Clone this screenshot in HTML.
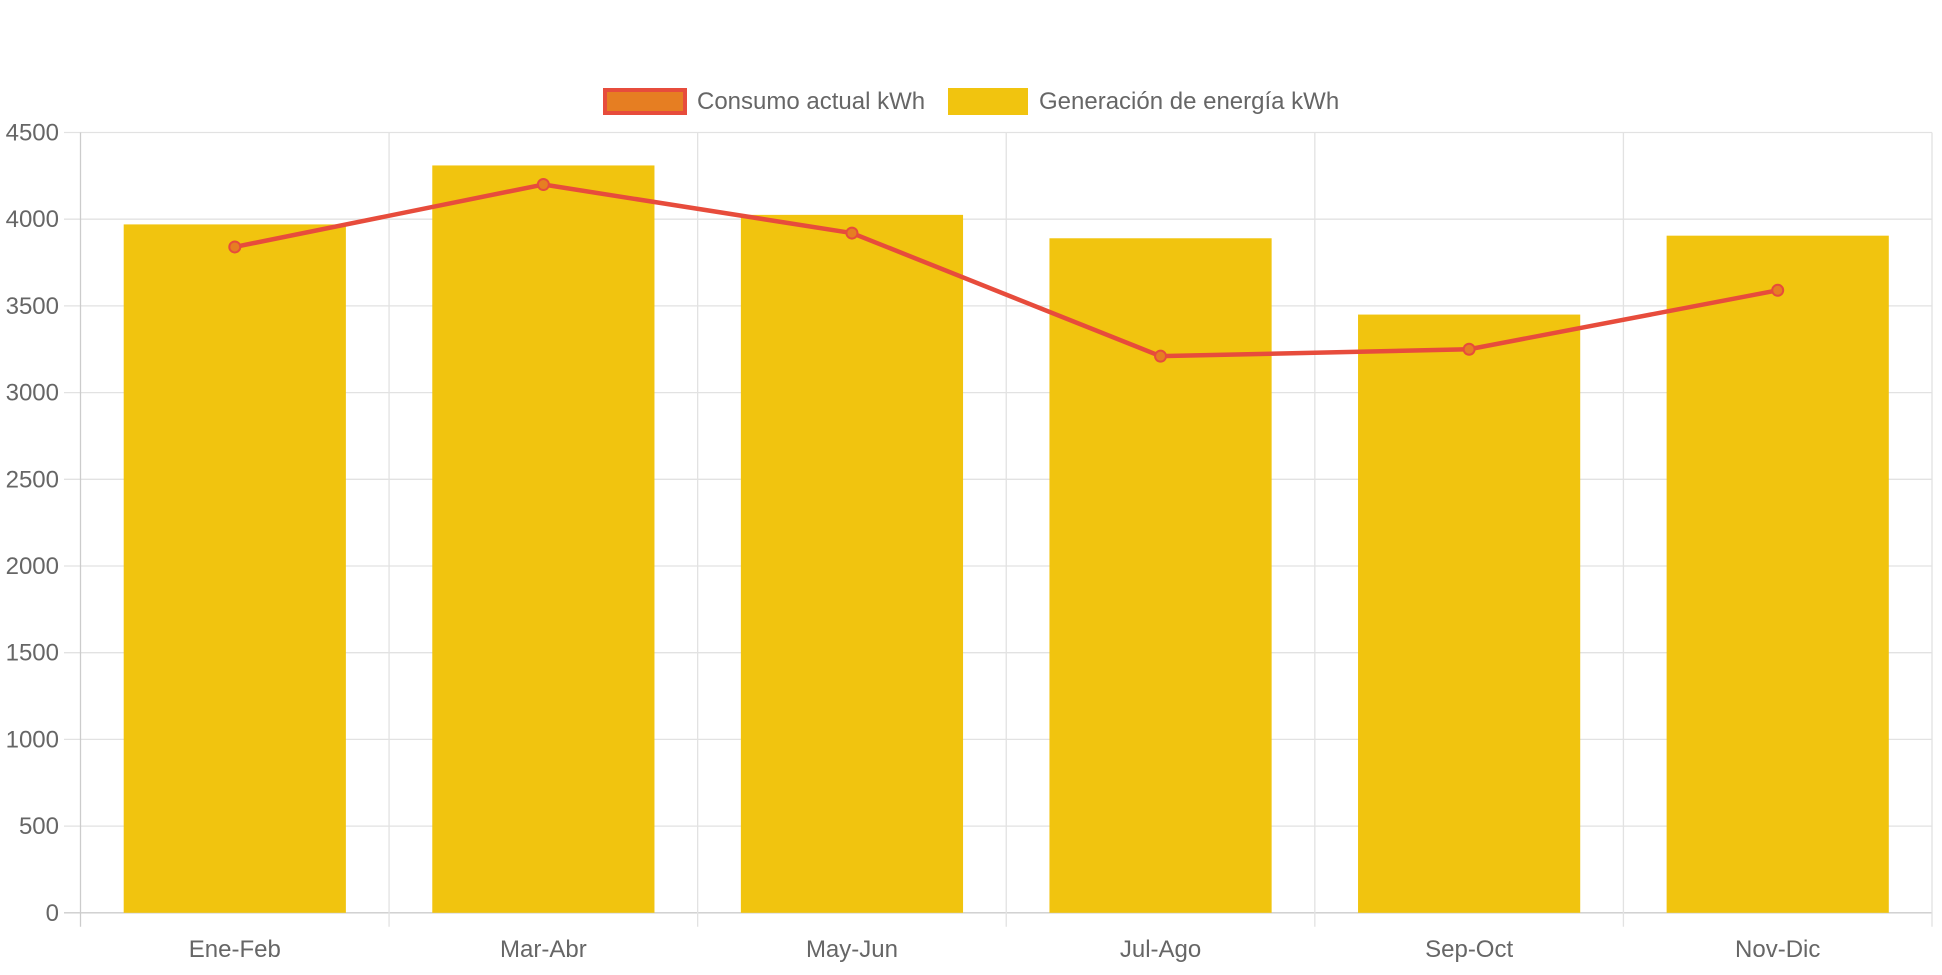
<!DOCTYPE html>
<html><head><meta charset="utf-8"><style>
body{margin:0;background:#fff;width:1942px;height:970px;overflow:hidden;font-family:"Liberation Sans",sans-serif}
</style></head><body>
<svg id="chart" width="1942" height="970" xmlns="http://www.w3.org/2000/svg"></svg>
<script>
const categories=["Ene-Feb","Mar-Abr","May-Jun","Jul-Ago","Sep-Oct","Nov-Dic"];
const generation=[3970,4310,4025,3890,3450,3905];
const consumption=[3840,4200,3920,3210,3250,3590];
const yTicks=[0,500,1000,1500,2000,2500,3000,3500,4000,4500];
const svg=document.getElementById('chart');
const NS="http://www.w3.org/2000/svg";
const L=80.5,R=1932,T=132.5,B=912.8,yMax=4500;
const cw=(R-L)/categories.length;
const y=v=>B-(v/yMax)*(B-T);
const xc=i=>L+cw*(i+0.5);
function mk(tag,attrs,parent){const e=document.createElementNS(NS,tag);for(const k in attrs)e.setAttribute(k,attrs[k]);(parent||svg).appendChild(e);return e;}
const grid=mk('g',{});


yTicks.forEach(t=>{
 mk('line',{x1:64,x2:R,y1:y(t),y2:y(t),stroke:t===0?'#ccc':'#e2e2e2','stroke-width':1.3},grid);
 const tx=mk('text',{x:59,y:y(t)+8,'text-anchor':'end','font-size':24,fill:'#666'});
 tx.textContent=t;
 
 
});
for(let i=0;i<=categories.length;i++){
 const x=L+cw*i;
 mk('line',{x1:x,x2:x,y1:T,y2:B+14,stroke:i===0?'#ccc':'#e2e2e2','stroke-width':1.3},grid);
}
categories.forEach((c,i)=>{
 const tx=mk('text',{x:xc(i),y:957,'text-anchor':'middle','font-size':24,fill:'#666'});
 tx.textContent=c;
 
 
});
const bw=cw*0.72;
generation.forEach((v,i)=>{
 const r=mk('rect',{x:xc(i)-bw/2,y:y(v),width:bw,height:B-y(v),fill:'#f1c40f'});
 
 
});
const pts=consumption.map((v,i)=>xc(i)+','+y(v)).join(' ');
const pl=mk('polyline',{points:pts,fill:'none',stroke:'#e74c3c','stroke-width':4.5,'stroke-linejoin':'round'});


consumption.forEach((v,i)=>{
 const c=mk('circle',{cx:xc(i),cy:y(v),r:5.5,fill:'#e67e22',stroke:'#e74c3c','stroke-width':2});
 
 
});
const lg1=mk('g',{});


mk('rect',{x:605,y:90,width:80,height:23,fill:'#e67e22',stroke:'#e74c3c','stroke-width':4},lg1);
const t1=mk('text',{x:697,y:109,'font-size':24,fill:'#666'},lg1);t1.textContent='Consumo actual kWh';
const lg2=mk('g',{});


mk('rect',{x:948,y:88,width:80,height:27,fill:'#f1c40f'},lg2);
const t2=mk('text',{x:1039,y:109,'font-size':24,fill:'#666'},lg2);t2.textContent='Generación de energía kWh';
</script>
</body></html>
